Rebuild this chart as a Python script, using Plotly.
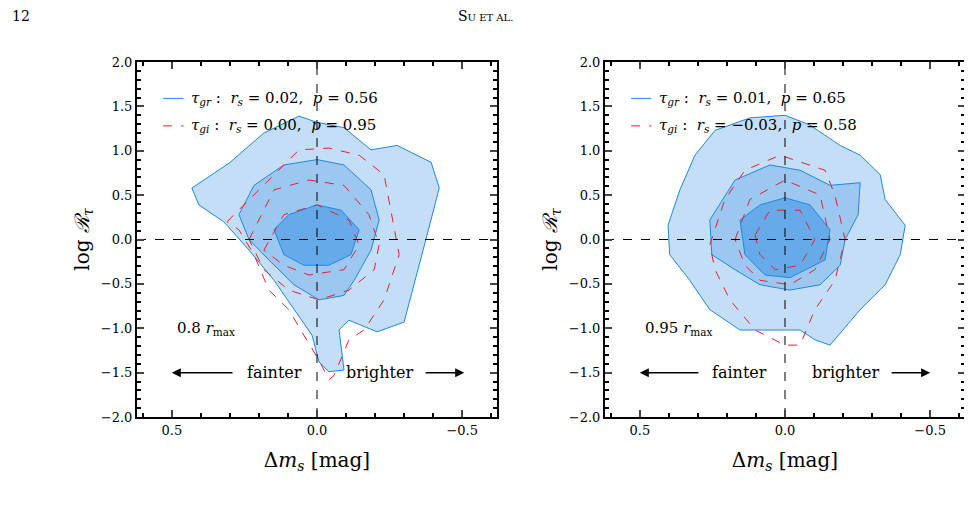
import plotly.graph_objects as go
from plotly.subplots import make_subplots

# digitised contour vertices (x = Δm_s, y = log R_tau)
L_out_x=[.431,.303,.183,.062,0,-.093,-.186,-.276,-.393,-.421,-.379,-.334,-.30,-.207,-.110,-.076,-.093,-.041,-.007,.017,.079,.148,.234,.321,.407]
L_out_y=[.58,.86,1.20,1.39,1.32,1.26,1.01,1.06,.87,.58,.05,-.51,-.93,-1.04,-.91,-1.02,-1.47,-1.49,-1.38,-1.08,-.79,-.46,-.12,.20,.39]
L_mid_x=[.269,.217,.114,0,-.093,-.186,-.214,-.186,-.128,-.093,-.007,.079,.166,.234]
L_mid_y=[.28,.61,.84,.90,.84,.56,.22,-.12,-.46,-.63,-.68,-.51,-.23,0]
L_in_x=[.148,.097,0,-.083,-.145,-.117,-.041,.045,.114]
L_in_y=[.11,.28,.39,.33,.11,-.17,-.29,-.29,-.17]
L_r1_x=[.31,.183,.062,-.041,-.145,-.231,-.266,-.283,-.231,-.162,-.110,-.059,-.041,-.007,.045,.097,.166,.217,.269]
L_r1_y=[.20,.61,1.01,1.03,.95,.73,.11,-.17,-.68,-1.02,-1.13,-1.53,-1.58,-1.36,-1.08,-.79,-.57,-.17,.11]
L_r2_x=[.234,.148,.028,-.093,-.179,-.214,-.197,-.11,-.007,.097,.183]
L_r2_y=[0,.56,.67,.61,.28,-.06,-.34,-.57,-.68,-.57,-.34]
L_r3_x=[.183,.114,0,-.11,-.145,-.093,.028,.114]
L_r3_y=[-.12,.28,.39,.22,-.06,-.34,-.40,-.29]

R_out_x=[.403,.362,.310,.241,.121,0,-.086,-.19,-.259,-.328,-.345,-.414,-.397,-.345,-.259,-.155,-.103,-.052,0,.155,.259,.328,.397]
R_out_y=[.16,.56,.95,1.23,1.37,1.40,1.29,1.06,.95,.73,.45,.16,-.17,-.51,-.79,-1.19,-1.13,-1.02,-1.02,-1.02,-.79,-.46,-.17]
R_mid_x=[.259,.172,.052,-.052,-.155,-.259,-.252,-.207,-.19,-.121,-.017,.086,.172,.252]
R_mid_y=[.22,.67,.84,.78,.61,.64,.28,0,-.29,-.51,-.57,-.51,-.34,-.17]
R_in_x=[.155,.086,0,-.086,-.155,-.138,-.017,.069,.138]
R_in_y=[.22,.39,.47,.39,.11,-.23,-.43,-.40,-.17]
R_r1_x=[.259,.207,.138,.017,-.138,-.172,-.207,-.172,-.103,-.052,0,.103,.19,.241]
R_r1_y=[-.06,.45,.78,.95,.78,.50,0,-.46,-.79,-1.19,-1.19,-1.02,-.68,-.34]
R_r2_x=[.172,.121,0,-.121,-.155,-.103,-.017,.086,.138]
R_r2_y=[0,.45,.67,.50,0,-.34,-.51,-.46,-.29]
R_r3_x=[.103,.052,-.052,-.103,-.052,.034,.086]
R_r3_y=[.05,.33,.33,0,-.29,-.34,-.17]

legend_left=["<i>τ<sub>gr</sub></i> :  <i>r<sub>s</sub></i> = 0.02,  <i>p</i> = 0.56",
             "<i>τ<sub>gi</sub></i> :  <i>r<sub>s</sub></i> = 0.00,  <i>p</i> = 0.95"]
legend_right=["<i>τ<sub>gr</sub></i> :  <i>r<sub>s</sub></i> = 0.01,  <i>p</i> = 0.65",
              "<i>τ<sub>gi</sub></i> :  <i>r<sub>s</sub></i> = −0.03,  <i>p</i> = 0.58"]
labels=["0.8 <i>r</i><sub>max</sub>","0.95 <i>r</i><sub>max</sub>"]
xticks=[0.5,0,-0.5]; xticklabels=["0.5","0.0","−0.5"]
yticks=[-2,-1.5,-1,-0.5,0,0.5,1,1.5,2]
yticklabels=["−2.0","−1.5","−1.0","−0.5","0.0","0.5","1.0","1.5","2.0"]

F="DejaVu Serif"
fig=make_subplots(rows=1,cols=2,horizontal_spacing=0.1304)
blue="#1e88e5"
def close(a): return a+[a[0]]
panels=[(L_out_x,L_out_y,L_mid_x,L_mid_y,L_in_x,L_in_y,[(L_r1_x,L_r1_y),(L_r2_x,L_r2_y),(L_r3_x,L_r3_y)]),
        (R_out_x,R_out_y,R_mid_x,R_mid_y,R_in_x,R_in_y,[(R_r1_x,R_r1_y),(R_r2_x,R_r2_y),(R_r3_x,R_r3_y)])]
for c,(ox,oy,mx,my,ix,iy,reds) in enumerate(panels,1):
    for xs,ys,col in [(ox,oy,"#c5def8"),(mx,my,"#9cc7f1"),(ix,iy,"#67aae9")]:
        fig.add_trace(go.Scatter(x=close(xs),y=close(ys),fill="toself",fillcolor=col,mode="lines",
                                 line=dict(color=blue,width=1),showlegend=False,hoverinfo="skip"),1,c)
    for xs,ys in reds:
        fig.add_trace(go.Scatter(x=close(xs),y=close(ys),mode="lines",line=dict(color="#e8202a",width=1,dash="dash"),
                                 showlegend=False,hoverinfo="skip"),1,c)
    fig.add_trace(go.Scatter(x=[0,0],y=[-2,2],mode="lines",line=dict(color="black",width=1,dash="dash"),showlegend=False),1,c)
    fig.add_trace(go.Scatter(x=[0.62,-0.62],y=[0,0],mode="lines",line=dict(color="black",width=1,dash="dash"),showlegend=False),1,c)
    fig.add_trace(go.Scatter(x=[0.53,0.46],y=[1.59,1.59],mode="lines",line=dict(color=blue,width=1),showlegend=False),1,c)
    fig.add_trace(go.Scatter(x=[0.53,0.46],y=[1.28,1.28],mode="lines",line=dict(color="#e8202a",width=1,dash="dash"),showlegend=False),1,c)
    leg=legend_left if c==1 else legend_right
    xr="x" if c==1 else "x2"; yr="y" if c==1 else "y2"
    for t,yy in zip(leg,[1.59,1.28]):
        fig.add_annotation(x=0.44,y=yy,xref=xr,yref=yr,text=t,showarrow=False,xanchor="left",font=dict(family=F,size=15,color="black"))
    fig.add_annotation(x=0.49,y=-1.0,xref=xr,yref=yr,text=labels[c-1],showarrow=False,xanchor="left",font=dict(family=F,size=15,color="black"))
    fx,bx=(0.148,-0.214) if c==1 else (0.155,-0.207)
    fig.add_annotation(x=fx,y=-1.5,xref=xr,yref=yr,text="fainter",showarrow=False,font=dict(family=F,size=16,color="black"))
    fig.add_annotation(x=bx,y=-1.5,xref=xr,yref=yr,text="brighter",showarrow=False,font=dict(family=F,size=16,color="black"))
    a1=(0.286,0.5) if c==1 else (0.293,0.5)
    a2=(-0.369,-0.507) if c==1 else (-0.362,-0.5)
    for t0,t1 in [a1,a2]:
        fig.add_annotation(x=t1,y=-1.5,ax=t0,ay=-1.5,xref=xr,yref=yr,axref=xr,ayref=yr,text="",showarrow=True,
                           arrowhead=2,arrowsize=1.2,arrowwidth=1.5,arrowcolor="black")
    ax=dict(range=[0.62,-0.62],tickvals=xticks,ticktext=xticklabels,ticks="inside",ticklen=7,tickwidth=1.5,mirror="allticks",
            showline=True,linewidth=2,linecolor="black",showgrid=False,zeroline=False,automargin=False,
            minor=dict(ticks="inside",ticklen=4,dtick=0.1,tickcolor="black"),
            title=dict(text="Δ<i>m<sub>s</sub></i> [mag]",font=dict(family=F,size=20,color="black"),standoff=16),
            tickfont=dict(family=F,size=13,color="black"))
    ay=dict(range=[-2,2],tickvals=yticks,ticktext=yticklabels,ticks="inside",ticklen=7,tickwidth=1.5,mirror="allticks",
            showline=True,linewidth=2,linecolor="black",showgrid=False,zeroline=False,automargin=False,
            minor=dict(ticks="inside",ticklen=4,dtick=0.1,tickcolor="black"),
            title=dict(text="log <i>ℛ<sub>τ</sub></i>",font=dict(family=F,size=20,color="black"),standoff=6),
            tickfont=dict(family=F,size=13,color="black"))
    fig.update_xaxes(ax,row=1,col=c); fig.update_yaxes(ay,row=1,col=c)

fig.add_annotation(x=0,y=1,xref="paper",yref="paper",xshift=-127,yshift=46,text="12",showarrow=False,xanchor="left",yanchor="middle",
                   font=dict(family=F,size=14,color="black"))
fig.add_annotation(x=0.5,y=1,xref="paper",yref="paper",xshift=-66,yshift=46,text="S<span style='font-size:10px'>U ET AL.</span>",
                   showarrow=False,yanchor="middle",font=dict(family=F,size=14,color="black"))
fig.update_layout(width=972,height=517,margin=dict(l=129,r=15,t=54,b=108),plot_bgcolor="white",paper_bgcolor="white",
                  font=dict(family=F,color="black"))
fig.write_html("out.html")
